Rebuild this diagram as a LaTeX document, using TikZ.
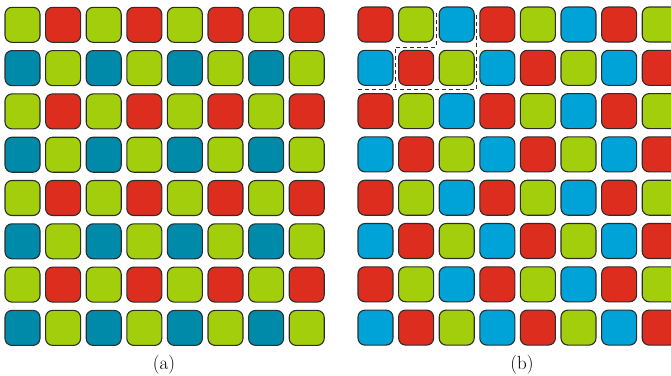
\documentclass[tikz,border=0pt]{standalone}
\usetikzlibrary{calc}
\definecolor{lg}{RGB}{163,206,12}
\definecolor{lr}{RGB}{221,45,30}
\definecolor{lt}{RGB}{0,138,170}
\definecolor{lb}{RGB}{0,163,215}
\definecolor{edge}{RGB}{45,45,45}
\tikzset{
  sq/.style={draw=edge, line width=1.1pt, rounded corners=7pt, minimum width=35pt, minimum height=35pt, inner sep=0pt, outer sep=0pt},
  hl/.style={draw=edge, line width=1pt, dash pattern=on 4pt off 3pt},
  lbl/.style={font=\fontsize{19}{22}\selectfont, anchor=base, inner sep=0pt}
}
\begin{document}
\begin{tikzpicture}[x=1pt,y=-1pt]
\useasboundingbox (0,0) rectangle (671,375);
\clip (0,0) rectangle (671,375);
\foreach \j in {0,...,7}{
  \foreach \i in {0,...,7}{
    \pgfmathtruncatemacro\ca{mod(\j,2)*2+mod(\i,2)}
    \pgfmathtruncatemacro\cb{mod(\i+2*mod(\j,2),3)}
    \ifcase\ca \def\cca{lg}\or \def\cca{lr}\or \def\cca{lt}\or \def\cca{lg}\fi
    \ifcase\cb \def\ccb{lr}\or \def\ccb{lg}\or \def\ccb{lb}\fi
    \node[sq, fill=\cca] (a-\i-\j) at (22.5+40.6*\i, 24.8+43.3*\j) {};
    \node[sq, fill=\ccb] (b-\i-\j) at (375.5+40.6*\i, 24.5+43.3*\j) {};
  }
}
\coordinate (h1) at (436,13);
\coordinate (h2) at (436,47);
\coordinate (h3) at (395,47);
\coordinate (h4) at (395,89.5);
\coordinate (h5) at (358,89.5);
\coordinate (h6) at (476.8,89.5);
\coordinate (h7) at (476.8,13);
\draw[hl] (h1) -- (h2) -- (h3) -- (h4);
\draw[hl] (h5) -- (h6) -- (h7);
\node[lbl] (la) at (164,369) {(a)};
\node[lbl] (lb) at (522,369) {(b)};
\end{tikzpicture}
\end{document}
